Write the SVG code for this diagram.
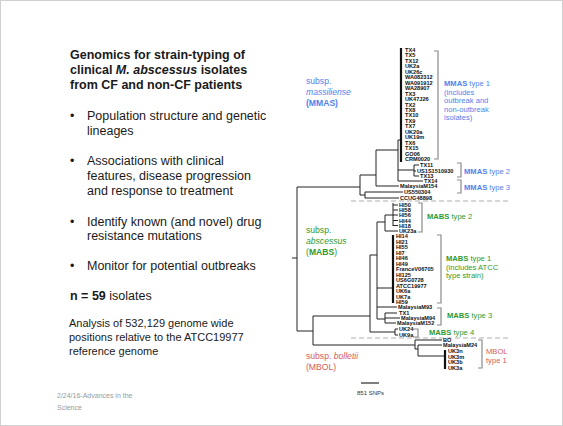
<svg xmlns="http://www.w3.org/2000/svg" width="563" height="426" viewBox="0 0 563 426">
<style>
.t{font-family:"Liberation Sans",Arial,sans-serif;fill:#1a1a1a}
.h{font-size:12.5px;font-weight:bold}
.b{font-size:12.5px}
.s{font-size:11px}
.lb{font-family:"Liberation Sans",Arial,sans-serif;font-size:5.6px;font-weight:bold;fill:#111}
.br{fill:none;stroke:#8a8a8a;stroke-width:1.2}
.e{fill:none;stroke:#222;stroke-width:1}
.k{fill:none;stroke:#111;stroke-width:2.2}
.d{fill:none;stroke:#b0b0b0;stroke-width:1.2;stroke-dasharray:5,3}
.g{font-family:"Liberation Sans",Arial,sans-serif;font-size:7.6px}
.blue{fill:#4f82ee}
.green{fill:#2e9a2e}
.red{fill:#d85a5a}
.sub{font-family:"Liberation Sans",Arial,sans-serif;font-size:8.6px}
</style>
<rect x="0.5" y="0.5" width="562" height="425" fill="#fff" stroke="#d0d0d0"/>

<g id="text-panel">
<text class="t h" x="70" y="59">Genomics for strain-typing of</text>
<text class="t h" x="70" y="74">clinical <tspan font-style="italic">M. abscessus</tspan> isolates</text>
<text class="t h" x="70" y="89">from CF and non-CF patients</text>
<text class="t b" x="70" y="120">•</text>
<text class="t b" x="87" y="120">Population structure and genetic</text>
<text class="t b" x="87" y="135">lineages</text>
<text class="t b" x="70" y="165">•</text>
<text class="t b" x="87" y="165">Associations with clinical</text>
<text class="t b" x="87" y="180">features, disease progression</text>
<text class="t b" x="87" y="195">and response to treatment</text>
<text class="t b" x="70" y="226">•</text>
<text class="t b" x="87" y="226">Identify known (and novel) drug</text>
<text class="t b" x="87" y="240">resistance mutations</text>
<text class="t b" x="70" y="270">•</text>
<text class="t b" x="87" y="270">Monitor for potential outbreaks</text>
<text class="t b" x="70" y="300"><tspan font-weight="bold">n = 59</tspan> isolates</text>
<text class="t s" x="69" y="327">Analysis of 532,129 genome wide</text>
<text class="t s" x="69" y="341">positions relative to the ATCC19977</text>
<text class="t s" x="69" y="355">reference genome</text>
</g>

<g id="footer">
<text x="57" y="398" font-family="Liberation Sans,Arial,sans-serif" font-size="7px" fill="#9a9a9a">2/24/16-Advances in the</text>
<text x="57" y="410" font-family="Liberation Sans,Arial,sans-serif" font-size="7px" fill="#9a9a9a">Science</text>
</g>

<g id="connectors">
<path class="e" d="M292,258H297M297,187V331"/>
<path class="e" d="M297,187H360M360,175V195M360,175H376M376,150V186M376,150H398M398,140V181M398,140H401M376,186H399M398,170H414M414,165V176M414,165H419M414,171H416M414,176H419M398,181H423M360,195H365M365,192V198M365,192H403M365,198H399"/>
<path class="k" d="M401,48V162"/>
<path class="e" d="M297,331H313M313,316V345M313,316H370M370,255V332M370,332H395M395,329V335M395,329H398M395,335H398M370,255H377M377,222V319M377,222H385M385,215V231M385,215H393M393,203V226M385,231H398M377,288H393M377,307H397M377,319H385M385,313V323M385,313H397M385,318H400M385,323H396"/>
<path class="e" d="M393,205H398M393,210H398M393,215H398M393,220.5H398M393,225.5H398"/>
<path class="k" d="M393,235V303"/>
<path class="e" d="M313,345H415M415,340V349M415,340H442M415,349H418M418,345V356M418,345H442M418,356H445"/>
<path class="k" d="M445,350V369"/>
<path class="d" d="M351,201H510M351,338H510"/>
<path class="br" d="M434,51H438V159H434"/>
<path class="br" d="M457,163H461V177H457"/>
<path class="br" d="M457,180H461V193H457"/>
<path class="br" d="M418,203H422V232H418"/>
<path class="br" d="M437,235H441V303H437"/>
<path class="br" d="M437,308H441V325H437"/>
<path class="br" d="M413,329H418V337H413"/>
<path class="br" d="M478,340H482V368H478"/>
<path fill="none" stroke="#555" stroke-width="1.5" d="M361,383H379"/>
</g>

<g id="mmas-leaves">
<text class="lb" x="405" y="52">TX4</text>
<text class="lb" x="405" y="57.4">TX5</text>
<text class="lb" x="405" y="62.9">TX12</text>
<text class="lb" x="405" y="68.3">UK2a</text>
<text class="lb" x="405" y="73.8">UK26c</text>
<text class="lb" x="405" y="79.2">WA082312</text>
<text class="lb" x="405" y="84.7">WA091912</text>
<text class="lb" x="405" y="90.1">WA28907</text>
<text class="lb" x="405" y="95.6">TX3</text>
<text class="lb" x="405" y="101">UK47J26</text>
<text class="lb" x="405" y="106.5">TX2</text>
<text class="lb" x="405" y="111.9">TX8</text>
<text class="lb" x="405" y="117.4">TX10</text>
<text class="lb" x="405" y="122.8">TX9</text>
<text class="lb" x="405" y="128.3">TX7</text>
<text class="lb" x="405" y="133.7">UK20a</text>
<text class="lb" x="405" y="139.2">UK19m</text>
<text class="lb" x="405" y="144.6">TX6</text>
<text class="lb" x="405" y="150.1">TX15</text>
<text class="lb" x="405" y="155.5">GO06</text>
<text class="lb" x="405" y="161">CRM0020</text>
<text class="lb" x="420" y="167">TX11</text>
<text class="lb" x="417" y="172.5">US1S1510930</text>
<text class="lb" x="420" y="178">TX13</text>
<text class="lb" x="424" y="183">TX14</text>
<text class="lb" x="400" y="188">MalaysiaM154</text>
<text class="lb" x="404" y="194">US550304</text>
<text class="lb" x="400" y="200">CCUG48898</text>
</g>

<g id="mabs-leaves">
<text class="lb" x="399" y="207">HI50</text>
<text class="lb" x="399" y="212">HI58</text>
<text class="lb" x="399" y="217">HI56</text>
<text class="lb" x="399" y="222.5">HI44</text>
<text class="lb" x="399" y="227.5">HI18</text>
<text class="lb" x="399" y="233">UK23a</text>
<text class="lb" x="396" y="238">HI14</text>
<text class="lb" x="396" y="243.5">HI21</text>
<text class="lb" x="396" y="249">HI55</text>
<text class="lb" x="396" y="254.5">HI7</text>
<text class="lb" x="396" y="260">HI46</text>
<text class="lb" x="396" y="265.5">HI49</text>
<text class="lb" x="396" y="271">FranceV06705</text>
<text class="lb" x="396" y="276.5">HI125</text>
<text class="lb" x="396" y="282">US6G0728</text>
<text class="lb" x="396" y="287.5">ATCC19977</text>
<text class="lb" x="396" y="293">UK6a</text>
<text class="lb" x="396" y="298.5">UK7a</text>
<text class="lb" x="396" y="304">HI59</text>
<text class="lb" x="398" y="309">MalaysiaM93</text>
<text class="lb" x="399" y="315">TX1</text>
<text class="lb" x="401" y="320">MalaysiaM94</text>
<text class="lb" x="397" y="325">MalaysiaM152</text>
<text class="lb" x="399" y="331">UK24</text>
<text class="lb" x="399" y="336.5">UK9a</text>
</g>

<g id="mbol-leaves">
<text class="lb" x="443" y="342">BO</text>
<text class="lb" x="443" y="347">MalaysiaM24</text>
<text class="lb" x="448" y="353">UK3n</text>
<text class="lb" x="448" y="358.5">UK3m</text>
<text class="lb" x="448" y="364">UK3b</text>
<text class="lb" x="448" y="369.5">UK3a</text>
</g>

<g id="subspecies-labels">
<text class="sub blue" x="306" y="84">subsp.</text>
<text class="sub blue" x="306" y="95" font-style="italic">massiliense</text>
<text class="sub blue" x="306" y="106" font-weight="bold">(MMAS)</text>
<text class="sub green" x="306" y="233">subsp.</text>
<text class="sub green" x="306" y="244" font-style="italic">abscessus</text>
<text class="sub green" x="306" y="255">(<tspan font-weight="bold">MABS</tspan>)</text>
<text class="sub red" x="306" y="359">subsp. <tspan font-style="italic">bolletii</tspan></text>
<text class="sub red" x="306" y="370">(MBOL)</text>
</g>

<g id="type-labels">
<text class="g blue" x="444" y="86"><tspan font-weight="bold">MMAS</tspan> type 1</text>
<text class="g blue" x="444" y="94.5">(includes</text>
<text class="g blue" x="444" y="103">outbreak and</text>
<text class="g blue" x="444" y="111.5">non-outbreak</text>
<text class="g blue" x="444" y="120">isolates)</text>
<text class="g blue" x="464" y="174"><tspan font-weight="bold">MMAS</tspan> type 2</text>
<text class="g blue" x="464" y="190"><tspan font-weight="bold">MMAS</tspan> type 3</text>
<text class="g green" x="427" y="219"><tspan font-weight="bold">MABS</tspan> type 2</text>
<text class="g green" x="446" y="261"><tspan font-weight="bold">MABS</tspan> type 1</text>
<text class="g green" x="446" y="269.5">(includes ATCC</text>
<text class="g green" x="446" y="278">type strain)</text>
<text class="g green" x="447" y="318"><tspan font-weight="bold">MABS</tspan> type 3</text>
<text class="g green" x="429" y="335"><tspan font-weight="bold">MABS</tspan> type 4</text>
<text class="g red" x="486" y="354">MBOL</text>
<text class="g red" x="486" y="363">type 1</text>
<text x="357" y="395" font-family="Liberation Sans,Arial,sans-serif" font-size="6px" fill="#333">851 SNPs</text>
</g>
</svg>
